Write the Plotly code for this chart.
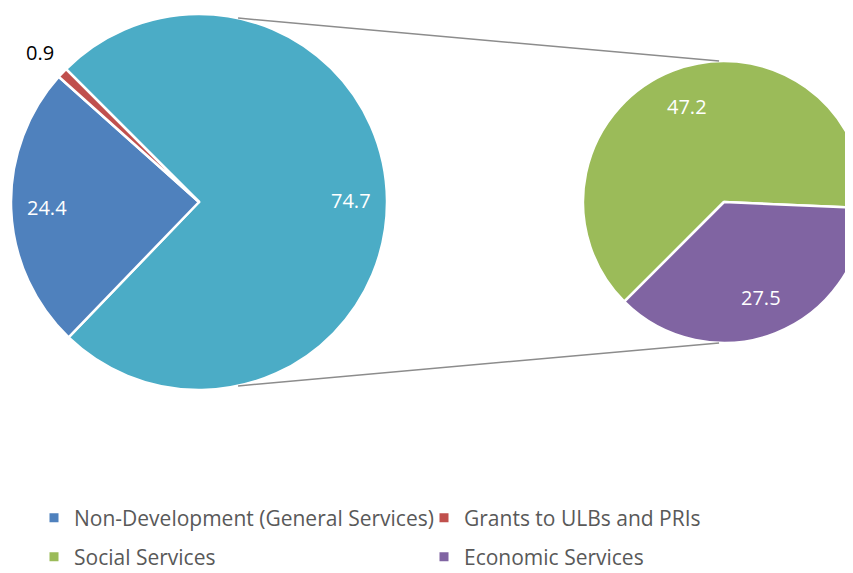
import math

import plotly.graph_objects as go

# the page sits 8px in from the window corner; the figure is made a bit larger
# than the window so the right pie gets cut off at the edge like the original
# and the legends never push the margins
W, H = 870, 610

# left pie: Development split out vs the rest
main_labels = ["Development", "Non-Development (General Services)", "Grants to ULBs and PRIs"]
main_values = [74.7, 24.4, 0.9]
main_colors = ["#4BACC6", "#4F81BD", "#C0504D"]
main_text_colors = ["white", "white", "black"]

# right pie: breakdown of Development
sub_labels = ["Social Services", "Economic Services"]
sub_values = [47.2, 27.5]
sub_colors = ["#9BBB59", "#8064A2"]
sub_text_colors = ["white", "white"]

legend_rows = [
    ["Non-Development (General Services)", "Grants to ULBs and PRIs"],
    ["Social Services", "Economic Services"],
]
legend_colors = {
    "Non-Development (General Services)": "#4F81BD",
    "Grants to ULBs and PRIs": "#C0504D",
    "Social Services": "#9BBB59",
    "Economic Services": "#8064A2",
}

# pie geometry in figure pixels: centre x, centre y, radius, start angle
c1 = dict(cx=191, cy=194, r=188, rot=315)
c2 = dict(cx=716, cy=194, r=141, rot=225)


def domain(c):
    return dict(x=[(c["cx"] - c["r"]) / W, (c["cx"] + c["r"]) / W],
                y=[1 - (c["cy"] + c["r"]) / H, 1 - (c["cy"] - c["r"]) / H])


def on_circle(c, clock_deg, frac=1.0):
    a = math.radians(clock_deg)
    rr = c["r"] * frac
    return (c["cx"] + rr * math.sin(a)) / W, 1 - (c["cy"] - rr * math.cos(a)) / H


def add_pie(fig, c, labels, values, colors):
    fig.add_trace(go.Pie(
        labels=labels,
        values=values,
        sort=False,
        direction="clockwise",
        rotation=c["rot"],
        domain=domain(c),
        marker=dict(colors=colors, line=dict(color="white", width=2.5)),
        textinfo="none",
        showlegend=False,
        hoverinfo="label+value",
    ))


def add_value_labels(fig, c, values, text_colors, frac_inside, frac_outside):
    total = sum(values)
    start = c["rot"]
    for v, col in zip(values, text_colors):
        span = 360 * v / total
        mid = start + span / 2
        frac = frac_outside if span < 10 else frac_inside
        x, y = on_circle(c, mid, frac)
        fig.add_annotation(x=x, y=y, xref="paper", yref="paper", text=str(v),
                           showarrow=False, xanchor="center", yanchor="middle",
                           font=dict(family="Open Sans", size=20, color=col))
        start += span


fig = go.Figure()

add_pie(fig, c1, main_labels, main_values, main_colors)
add_pie(fig, c2, sub_labels, sub_values, sub_colors)
add_value_labels(fig, c1, main_values, main_text_colors, 0.81, 1.16)
add_value_labels(fig, c2, sub_values, sub_text_colors, 0.73, 1.16)

# legend entries (two rows, two columns)
for i, row in enumerate(legend_rows):
    leg = "legend" if i == 0 else "legend2"
    for name in row:
        fig.add_trace(go.Scatter(
            x=[None], y=[None], mode="markers", name=name, legend=leg,
            marker=dict(symbol="square", size=9, color=legend_colors[name]),
        ))

# connector lines between the pies
for clock1, clock2 in [(12, -2), (168, 182)]:
    x0, y0 = on_circle(c1, clock1)
    x1, y1 = on_circle(c2, clock2)
    fig.add_shape(type="line", xref="paper", yref="paper",
                  x0=x0, y0=y0, x1=x1, y1=y1,
                  line=dict(color="#8C8C8C", width=1.5))

leg_style = dict(
    orientation="h",
    xanchor="left",
    yanchor="middle",
    x=26 / W,
    entrywidth=345,
    font=dict(family="Open Sans", size=21, color="#595959"),
    bgcolor="rgba(0,0,0,0)",
)

fig.update_layout(
    width=W,
    height=H,
    margin=dict(l=0, r=0, t=0, b=0),
    paper_bgcolor="white",
    plot_bgcolor="white",
    font=dict(family="Open Sans", color="#404040"),
    xaxis=dict(visible=False),
    yaxis=dict(visible=False),
    legend=dict(leg_style, y=1 - 510 / H),
    legend2=dict(leg_style, y=1 - 549 / H),
)

fig.write_html("out.html")
